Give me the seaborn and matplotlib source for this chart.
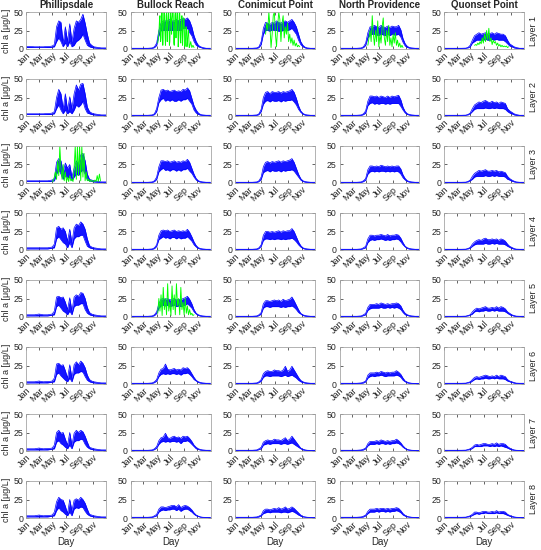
import numpy as np
import seaborn as sns
import matplotlib
matplotlib.use("Agg")
import matplotlib.pyplot as plt

sites = ["Phillipsdale", "Bullock Reach", "Conimicut Point", "North Providence", "Quonset Point"]
layers = ["Layer 1", "Layer 2", "Layer 3", "Layer 4", "Layer 5", "Layer 6", "Layer 7", "Layer 8"]
month_days = [1, 60, 121, 182, 244, 305]
month_labels = ["Jan", "Mar", "May", "Jul", "Sep", "Nov"]

# day of year for the model band (upper / lower envelope of chl a)
days = [1, 20, 40, 60, 80, 100, 110, 120, 130, 140, 150, 160, 170, 180, 190, 200,
        210, 220, 230, 240, 250, 260, 270, 280, 290, 300, 310, 320, 330, 345, 365]

phil_hi = [
    [3.5, 3.5, 3, 3, 3, 3.5, 3.5, 4, 6, 30, 38, 36, 8, 30, 10, 34, 10, 28, 38, 36, 40, 47, 35, 20, 8, 5, 3, 2.5, 2, 1.5, 1.5],
    [3, 3, 3, 3, 3, 3.5, 3.5, 4, 6, 25, 36, 30, 10, 30, 8, 26, 10, 30, 42, 35, 43, 44, 30, 12, 6, 4, 3, 2.5, 2, 1.5, 1.5],
    [3, 3, 3, 3, 3, 3, 3.5, 4, 6, 28, 33, 30, 15, 27, 20, 25, 8, 20, 30, 25, 38, 40, 30, 12, 5, 4, 3, 2.5, 2, 1.5, 1.5],
    [3, 3, 3, 3, 3, 3, 3.5, 4, 8, 30, 32, 28, 30, 25, 12, 28, 10, 30, 35, 33, 38, 35, 28, 15, 6, 4, 3, 2.5, 2, 1.5, 1.5],
    [3, 3, 3, 4, 3, 3, 3.5, 4, 8, 27, 28, 26, 27, 20, 10, 26, 8, 27, 30, 28, 33, 32, 25, 13, 6, 4, 3, 2.5, 2, 1.5, 1.5],
    [3, 3, 3, 4, 3, 3.5, 3.5, 4, 8, 27, 28, 25, 26, 18, 8, 26, 8, 26, 30, 26, 31, 28, 22, 12, 6, 4, 3, 2.5, 2, 1.5, 1.5],
    [3, 3, 3, 4, 3, 3.5, 3.5, 4, 8, 25, 28, 24, 25, 16, 8, 25, 8, 24, 28, 25, 28, 26, 20, 12, 5, 4, 3, 2.5, 2, 1.5, 1.5],
    [3, 3, 3, 4, 3, 3.5, 3.5, 4, 8, 22, 28, 25, 24, 16, 6, 25, 10, 24, 26, 24, 28, 25, 20, 12, 5, 4, 3, 2.5, 2, 1.5, 1.5],
]
phil_lo = [
    [2, 2, 2, 2, 2, 2, 2, 2.5, 3, 10, 15, 10, 3, 8, 3, 10, 3, 5, 10, 12, 15, 20, 12, 5, 3, 2, 1.5, 1.2, 1, 0.8, 0.8],
    [2, 2, 2, 2, 2, 2, 2, 2.5, 3, 10, 15, 8, 3, 8, 3, 6, 3, 8, 15, 12, 15, 20, 10, 4, 3, 2, 1.5, 1.2, 1, 0.8, 0.8],
    [2, 2, 2, 2, 2, 2, 2, 2.5, 3, 12, 18, 12, 5, 10, 6, 10, 3, 8, 12, 10, 15, 18, 12, 4, 3, 2, 1.5, 1.2, 1, 0.8, 0.8],
    [1.5, 1.5, 1.5, 1.5, 1.5, 1.5, 2, 2.5, 3, 15, 18, 14, 10, 8, 3, 10, 3, 15, 18, 18, 20, 20, 12, 5, 3, 2, 1.5, 1.2, 1, 0.8, 0.8],
    [1.5, 1.5, 1.5, 1.5, 1.5, 1.5, 2, 2.5, 3, 14, 16, 12, 8, 6, 3, 8, 3, 14, 16, 16, 18, 18, 10, 5, 3, 2, 1.5, 1.2, 1, 0.8, 0.8],
    [1.5, 1.5, 1.5, 1.5, 1.5, 1.5, 2, 2.5, 3, 13, 15, 11, 8, 5, 3, 8, 3, 13, 15, 15, 17, 16, 10, 5, 3, 2, 1.5, 1.2, 1, 0.8, 0.8],
    [1.5, 1.5, 1.5, 1.5, 1.5, 1.5, 2, 2.5, 3, 12, 14, 10, 8, 5, 3, 8, 3, 12, 14, 14, 16, 15, 9, 5, 3, 2, 1.5, 1.2, 1, 0.8, 0.8],
    [1.5, 1.5, 1.5, 1.5, 1.5, 1.5, 2, 2.5, 3, 10, 14, 10, 8, 5, 3, 8, 3, 12, 14, 13, 15, 14, 9, 5, 3, 2, 1.5, 1.2, 1, 0.8, 0.8],
]

bull_hi = [
    [1, 1, 1, 1, 1, 1.5, 3, 8, 25, 35, 38, 38, 38, 40, 38, 38, 40, 38, 40, 42, 40, 42, 38, 30, 18, 10, 5, 3, 2, 1, 1],
    [1, 1, 1, 1, 1, 1.5, 3, 10, 25, 35, 36, 34, 35, 33, 34, 35, 33, 34, 33, 36, 35, 38, 34, 24, 14, 8, 4, 2, 1.5, 1, 1],
    [1, 1, 1, 1, 1, 1.5, 3, 8, 22, 30, 30, 29, 30, 28, 29, 30, 28, 29, 28, 30, 29, 32, 28, 20, 12, 6, 3, 2, 1.5, 1, 1],
    [1, 1, 1, 1, 1, 1.5, 3, 7, 20, 26, 27, 26, 27, 25, 26, 27, 25, 26, 25, 26, 25, 28, 24, 18, 11, 6, 3, 2, 1.5, 1, 1],
    [1, 1, 1, 1, 1, 1.5, 3, 7, 18, 24, 25, 24, 25, 23, 24, 25, 23, 24, 23, 25, 26, 28, 24, 18, 10, 5, 3, 2, 1.5, 1, 1],
    [1, 1, 1, 1, 1, 1.5, 3, 6, 15, 20, 21, 27, 20, 19, 20, 21, 19, 20, 19, 22, 21, 22, 19, 14, 9, 5, 3, 2, 1.5, 1, 1],
    [1, 1, 1, 1, 1, 1.5, 3, 6, 14, 18, 19, 24, 18, 17, 19, 20, 18, 19, 17, 20, 19, 20, 17, 13, 8, 5, 3, 2, 1.5, 1, 1],
    [1, 1, 1, 1, 1, 1.5, 3, 5, 12, 15, 15, 14, 15, 16, 17, 17, 15, 18, 14, 16, 17, 16, 14, 11, 7, 4, 2.5, 1.5, 1, 0.8, 0.8],
]
bull_lo = [
    [0.5, 0.5, 0.5, 0.5, 0.5, 0.8, 2, 5, 18, 25, 25, 25, 25, 25, 25, 25, 25, 25, 25, 28, 28, 28, 22, 18, 10, 5, 3, 2, 1, 0.5, 0.5],
    [0.5, 0.5, 0.5, 0.5, 0.5, 0.8, 2, 6, 18, 22, 24, 20, 22, 20, 22, 20, 20, 22, 20, 22, 22, 24, 20, 16, 8, 4, 2, 1.2, 0.8, 0.5, 0.5],
    [0.5, 0.5, 0.5, 0.5, 0.5, 0.8, 2, 5, 15, 18, 20, 17, 18, 16, 18, 18, 16, 18, 16, 18, 18, 20, 16, 13, 8, 4, 2, 1.2, 0.8, 0.5, 0.5],
    [0.5, 0.5, 0.5, 0.5, 0.5, 0.8, 2, 5, 14, 16, 18, 16, 17, 15, 17, 17, 15, 17, 15, 16, 16, 18, 15, 12, 7, 4, 2, 1.2, 0.8, 0.5, 0.5],
    [0.5, 0.5, 0.5, 0.5, 0.5, 0.8, 2, 5, 12, 15, 16, 15, 16, 14, 15, 16, 14, 15, 14, 15, 16, 18, 15, 12, 7, 4, 2, 1.2, 0.8, 0.5, 0.5],
    [0.5, 0.5, 0.5, 0.5, 0.5, 0.8, 2, 4, 10, 13, 14, 13, 14, 13, 14, 14, 13, 14, 12, 14, 14, 15, 13, 10, 6, 4, 2, 1.2, 0.8, 0.5, 0.5],
    [0.5, 0.5, 0.5, 0.5, 0.5, 0.8, 2, 4, 9, 12, 13, 12, 13, 12, 13, 13, 12, 13, 10, 13, 13, 14, 12, 9, 6, 3, 2, 1.2, 0.8, 0.5, 0.5],
    [0.5, 0.5, 0.5, 0.5, 0.5, 0.8, 2, 3, 8, 10, 11, 10, 11, 11, 12, 12, 10, 12, 9, 11, 12, 12, 10, 8, 5, 3, 2, 1, 0.8, 0.5, 0.5],
]

coni_hi = [
    [1, 1, 1, 1, 1, 1.5, 3, 10, 28, 36, 35, 33, 36, 35, 38, 36, 35, 37, 38, 36, 38, 40, 36, 30, 20, 10, 5, 2.5, 1.5, 1, 1],
    [1, 1, 1, 1, 1, 1.5, 3, 9, 25, 32, 33, 30, 33, 32, 32, 33, 31, 33, 32, 33, 34, 36, 32, 24, 14, 7, 3.5, 2, 1.5, 1, 1],
    [1, 1, 1, 1, 1, 1.5, 3, 8, 22, 28, 29, 27, 29, 28, 29, 30, 28, 30, 29, 30, 31, 33, 28, 20, 12, 6, 3, 2, 1.5, 1, 1],
    [1, 1, 1, 1, 1, 1.5, 3, 7, 20, 25, 25, 24, 25, 24, 25, 26, 24, 26, 25, 26, 26, 29, 25, 18, 11, 6, 3, 2, 1.5, 1, 1],
    [1, 1, 1, 1, 1, 1.5, 3, 6, 18, 22, 22, 21, 22, 23, 22, 23, 21, 24, 22, 23, 24, 27, 22, 16, 10, 5, 3, 2, 1.5, 1, 1],
    [1, 1, 1, 1, 1, 1.5, 3, 6, 14, 17, 18, 17, 17, 19, 18, 18, 17, 19, 24, 17, 19, 24, 19, 14, 9, 5, 3, 2, 1.5, 1, 1],
    [1, 1, 1, 1, 1, 1.5, 3, 5, 12, 14, 15, 14, 14, 16, 15, 15, 14, 16, 18, 14, 16, 20, 16, 12, 8, 4, 2.5, 1.5, 1, 0.8, 0.8],
    [1, 1, 1, 1, 1, 1.5, 2.5, 4, 10, 12, 12, 11, 12, 13, 12, 14, 12, 13, 15, 12, 13, 15, 13, 10, 7, 4, 2, 1.5, 1, 0.8, 0.8],
]
coni_lo = [
    [0.5, 0.5, 0.5, 0.5, 0.5, 0.8, 2, 6, 20, 25, 25, 24, 26, 25, 25, 24, 24, 25, 26, 25, 26, 28, 24, 20, 12, 6, 3, 1.5, 0.8, 0.5, 0.5],
    [0.5, 0.5, 0.5, 0.5, 0.5, 0.8, 2, 6, 16, 20, 21, 19, 21, 20, 20, 21, 19, 21, 20, 21, 21, 22, 19, 15, 9, 5, 2.5, 1.2, 0.8, 0.5, 0.5],
    [0.5, 0.5, 0.5, 0.5, 0.5, 0.8, 2, 5, 14, 16, 17, 15, 17, 16, 16, 17, 15, 17, 16, 17, 17, 18, 16, 12, 8, 4, 2, 1.2, 0.8, 0.5, 0.5],
    [0.5, 0.5, 0.5, 0.5, 0.5, 0.8, 2, 5, 13, 15, 15, 14, 15, 14, 15, 15, 14, 15, 14, 15, 15, 16, 14, 11, 7, 4, 2, 1.2, 0.8, 0.5, 0.5],
    [0.5, 0.5, 0.5, 0.5, 0.5, 0.8, 2, 4, 12, 14, 14, 13, 14, 14, 14, 14, 13, 14, 13, 14, 14, 15, 13, 10, 6, 4, 2, 1.2, 0.8, 0.5, 0.5],
    [0.5, 0.5, 0.5, 0.5, 0.5, 0.8, 2, 4, 9, 11, 11, 10, 11, 11, 11, 11, 10, 11, 12, 10, 11, 12, 10, 8, 5, 3, 2, 1.2, 0.8, 0.5, 0.5],
    [0.5, 0.5, 0.5, 0.5, 0.5, 0.8, 2, 3, 8, 9, 10, 9, 10, 10, 10, 10, 9, 10, 10, 9, 10, 11, 9, 7, 5, 3, 1.5, 1, 0.8, 0.5, 0.5],
    [0.5, 0.5, 0.5, 0.5, 0.5, 0.8, 1.5, 3, 6, 7, 8, 7, 8, 8, 8, 8, 7, 8, 8, 7, 8, 9, 8, 6, 4, 2.5, 1.5, 1, 0.8, 0.5, 0.5],
]

nprov_hi = [
    [1, 1, 1, 1, 1, 1.5, 3, 8, 22, 30, 30, 32, 30, 29, 32, 30, 29, 31, 29, 31, 30, 30, 32, 26, 14, 7, 3.5, 2, 1.5, 1, 1],
    [1, 1, 1, 1, 1, 1.5, 3, 7, 20, 27, 27, 26, 27, 25, 27, 26, 25, 27, 25, 27, 26, 27, 28, 22, 12, 6, 3, 2, 1.5, 1, 1],
    [1, 1, 1, 1, 1, 1.5, 3, 6, 18, 23, 23, 22, 23, 22, 24, 23, 22, 23, 22, 23, 22, 23, 23, 19, 11, 6, 3, 2, 1.5, 1, 1],
    [1, 1, 1, 1, 1, 1.5, 3, 5, 15, 20, 20, 19, 20, 20, 21, 20, 19, 21, 19, 20, 20, 21, 20, 16, 10, 5, 3, 2, 1.5, 1, 1],
    [1, 1, 1, 1, 1, 1.5, 3, 5, 13, 17, 17, 17, 18, 17, 19, 18, 17, 18, 17, 18, 18, 19, 18, 15, 9, 5, 3, 2, 1.5, 1, 1],
    [1, 1, 1, 1, 1, 1.5, 2.5, 4, 12, 15, 15, 15, 16, 15, 17, 16, 15, 16, 15, 16, 16, 18, 16, 13, 8, 4, 2.5, 1.5, 1, 0.8, 0.8],
    [1, 1, 1, 1, 1, 1.5, 2.5, 4, 10, 13, 13, 13, 14, 13, 15, 14, 13, 14, 13, 14, 14, 16, 14, 11, 7, 4, 2, 1.5, 1, 0.8, 0.8],
    [1, 1, 1, 1, 1, 1.5, 2.5, 4, 9, 12, 12, 12, 13, 12, 13, 13, 12, 13, 12, 13, 13, 14, 13, 10, 6, 3.5, 2, 1.5, 1, 0.8, 0.8],
]
nprov_lo = [
    [0.5, 0.5, 0.5, 0.5, 0.5, 0.8, 2, 5, 15, 19, 20, 20, 19, 18, 20, 19, 18, 20, 18, 20, 19, 19, 20, 16, 9, 4, 2, 1.2, 0.8, 0.5, 0.5],
    [0.5, 0.5, 0.5, 0.5, 0.5, 0.8, 2, 4, 14, 17, 18, 16, 17, 16, 17, 17, 16, 17, 16, 17, 17, 17, 17, 13, 8, 4, 2, 1.2, 0.8, 0.5, 0.5],
    [0.5, 0.5, 0.5, 0.5, 0.5, 0.8, 2, 4, 12, 15, 16, 15, 16, 15, 16, 16, 15, 16, 15, 16, 15, 16, 15, 12, 7, 4, 2, 1.2, 0.8, 0.5, 0.5],
    [0.5, 0.5, 0.5, 0.5, 0.5, 0.8, 2, 3, 10, 13, 14, 13, 14, 14, 15, 14, 13, 14, 13, 14, 14, 15, 14, 11, 7, 4, 2, 1.2, 0.8, 0.5, 0.5],
    [0.5, 0.5, 0.5, 0.5, 0.5, 0.8, 2, 3, 9, 11, 12, 12, 12, 12, 13, 12, 12, 13, 12, 13, 12, 13, 12, 10, 6, 3, 2, 1.2, 0.8, 0.5, 0.5],
    [0.5, 0.5, 0.5, 0.5, 0.5, 0.8, 1.5, 3, 8, 10, 11, 10, 11, 11, 12, 11, 10, 11, 11, 11, 11, 12, 11, 9, 5, 3, 1.5, 1, 0.8, 0.5, 0.5],
    [0.5, 0.5, 0.5, 0.5, 0.5, 0.8, 1.5, 3, 7, 9, 9, 9, 10, 9, 10, 10, 9, 10, 9, 10, 10, 11, 10, 8, 5, 3, 1.5, 1, 0.8, 0.5, 0.5],
    [0.5, 0.5, 0.5, 0.5, 0.5, 0.8, 1.5, 3, 6, 8, 8, 8, 9, 8, 9, 9, 8, 9, 8, 9, 9, 10, 9, 7, 4, 2.5, 1.5, 1, 0.8, 0.5, 0.5],
]

quon_hi = [
    [1, 1, 1, 1, 1, 1.2, 2, 5, 12, 18, 20, 22, 20, 21, 22, 20, 21, 22, 20, 22, 21, 20, 20, 18, 12, 7, 5, 3, 2, 1, 1],
    [1, 1, 1, 1, 1, 1.2, 2, 4, 10, 15, 17, 19, 18, 20, 21, 19, 18, 20, 18, 19, 17, 19, 18, 17, 10, 7, 5, 3, 2, 1, 1],
    [1, 1, 1, 1, 1, 1.2, 2, 4, 9, 13, 15, 17, 16, 17, 18, 16, 16, 17, 16, 17, 15, 16, 15, 14, 9, 6, 4, 2.5, 1.5, 1, 1],
    [1, 1, 1, 1, 1, 1.2, 2, 3.5, 8, 11, 13, 14, 13, 15, 16, 14, 14, 15, 14, 15, 13, 15, 14, 12, 8, 5, 3.5, 2, 1.2, 1, 1],
    [1, 1, 1, 1, 1, 1.2, 2, 3, 7, 10, 12, 11, 12, 13, 14, 12, 12, 13, 12, 14, 12, 14, 13, 11, 7, 5, 3, 2, 1.2, 1, 1],
    [1, 1, 1, 1, 1, 1.2, 2, 3, 6, 9, 10, 9, 10, 11, 12, 11, 10, 11, 10, 12, 10, 12, 11, 10, 6, 4, 3, 2, 1.2, 1, 1],
    [1, 1, 1, 1, 1, 1.2, 2, 3, 5, 8, 9, 8, 9, 10, 10, 9, 9, 10, 9, 11, 9, 10, 10, 9, 6, 4, 2.5, 1.5, 1, 0.8, 0.8],
    [1, 1, 1, 1, 1, 1.2, 2, 3, 5, 8, 8, 7, 8, 9, 9, 8, 8, 9, 8, 10, 8, 9, 9, 8, 5, 3.5, 2.5, 1.5, 1, 0.8, 0.8],
]
quon_lo = [
    [0.5, 0.5, 0.5, 0.5, 0.5, 0.8, 1.5, 3, 8, 10, 12, 12, 12, 12, 13, 12, 12, 13, 12, 13, 12, 12, 12, 10, 7, 4, 3, 1.5, 1, 0.5, 0.5],
    [0.5, 0.5, 0.5, 0.5, 0.5, 0.8, 1.5, 3, 6, 9, 10, 10, 10, 10, 11, 10, 10, 11, 10, 11, 10, 10, 10, 9, 6, 4, 3, 1.5, 1, 0.5, 0.5],
    [0.5, 0.5, 0.5, 0.5, 0.5, 0.8, 1.5, 3, 5, 8, 9, 9, 9, 9, 10, 9, 9, 10, 9, 10, 9, 9, 9, 8, 5, 4, 2.5, 1.5, 1, 0.5, 0.5],
    [0.5, 0.5, 0.5, 0.5, 0.5, 0.8, 1.5, 2.5, 5, 7, 8, 8, 8, 8, 9, 8, 8, 9, 8, 9, 8, 8, 8, 7, 5, 3.5, 2, 1.2, 0.8, 0.5, 0.5],
    [0.5, 0.5, 0.5, 0.5, 0.5, 0.8, 1.5, 2.5, 4, 7, 8, 7, 8, 8, 9, 8, 8, 9, 8, 9, 8, 8, 8, 7, 5, 3, 2, 1.2, 0.8, 0.5, 0.5],
    [0.5, 0.5, 0.5, 0.5, 0.5, 0.8, 1.5, 2, 4, 6, 7, 6, 7, 7, 8, 7, 7, 8, 7, 8, 7, 7, 7, 6, 4, 3, 2, 1.2, 0.8, 0.5, 0.5],
    [0.5, 0.5, 0.5, 0.5, 0.5, 0.8, 1.5, 2, 3.5, 6, 6, 6, 6, 7, 7, 7, 6, 7, 6, 7, 6, 7, 6, 5, 4, 2.5, 1.5, 1, 0.8, 0.5, 0.5],
    [0.5, 0.5, 0.5, 0.5, 0.5, 0.8, 1.5, 2, 3.5, 5, 6, 5, 6, 6, 7, 6, 6, 6, 6, 7, 6, 6, 6, 5, 3.5, 2.5, 1.5, 1, 0.8, 0.5, 0.5],
]

# observations (green), day of year and chl a
phil3_obs_day = [120, 125, 130, 135, 140, 145, 150, 155, 160, 165, 170, 175, 180, 185, 190, 195, 200, 205, 210, 215, 220, 225,
                 230, 235, 240, 245, 250, 255, 260, 265, 270, 275, 280, 285, 290, 295, 300, 305, 310, 315, 320, 325, 330, 335, 340]
phil3_obs = [2, 3, 8, 15, 5, 30, 10, 50, 20, 5, 25, 3, 15, 2, 8, 2, 10, 3, 5, 2, 20, 50,
             5, 50, 10, 50, 3, 50, 8, 40, 3, 15, 3, 5, 2, 4, 2, 3, 2, 4, 2, 10, 2, 12, 3]

bull1_obs_day = [125, 128, 130, 133, 135, 138, 140, 143, 145, 148, 150, 153, 155, 158, 160, 163, 165, 168, 170, 173,
                 175, 178, 180, 183, 185, 188, 190, 193, 195, 198, 200, 203, 205, 208, 210, 213, 215, 218, 220, 223,
                 225, 228, 230, 233, 235, 238, 240, 243, 245, 248, 250, 253, 255, 258, 260, 263, 265, 268, 270, 275,
                 280, 285, 290]
bull1_obs = [8, 15, 20, 40, 45, 10, 15, 50, 50, 5, 25, 50, 50, 20, 5, 45, 50, 10, 30, 50,
             50, 5, 10, 48, 50, 20, 40, 50, 50, 8, 5, 45, 50, 15, 35, 50, 50, 3, 15, 50,
             50, 10, 8, 40, 45, 5, 20, 42, 40, 3, 5, 30, 30, 3, 10, 25, 25, 2, 3, 10,
             2, 5, 2]

bull5_obs_day = [125, 130, 135, 140, 145, 150, 155, 160, 165, 170, 175, 180, 185, 190, 195, 200, 205, 210, 215,
                 220, 225, 230, 235, 240, 245, 250, 255, 260, 265, 270, 275, 280, 285, 290]
bull5_obs = [5, 25, 8, 30, 2, 40, 10, 25, 3, 45, 8, 20, 2, 42, 10, 30, 3, 45, 15,
             25, 3, 40, 10, 20, 3, 25, 5, 15, 3, 10, 3, 5, 2, 3]

coni1_obs_day = [140, 145, 150, 155, 160, 165, 170, 175, 180, 185, 190, 195, 200, 205, 210, 215, 220, 225, 230,
                 235, 240, 245, 250, 255, 260, 265, 270, 275, 280, 285, 290, 295]
coni1_obs = [20, 35, 25, 50, 30, 2, 20, 45, 50, 20, 3, 30, 50, 40, 10, 35, 45, 15, 30,
             20, 35, 10, 20, 8, 15, 5, 12, 4, 8, 3, 5, 3]

nprov1_obs_day = [130, 135, 140, 145, 150, 155, 160, 165, 170, 175, 180, 185, 190, 195, 200, 205, 210, 215, 220,
                  225, 230, 235, 240, 245, 250, 255, 260, 265, 270, 275, 280, 285, 290]
nprov1_obs = [5, 15, 25, 10, 45, 20, 5, 25, 10, 38, 3, 20, 8, 30, 42, 15, 5, 25, 10,
              32, 5, 15, 3, 20, 8, 22, 5, 12, 3, 8, 2, 5, 2]

quon1_obs_day = [140, 145, 150, 155, 160, 165, 170, 175, 180, 185, 190, 195, 200, 205, 210, 215, 220, 225, 230,
                 235, 240, 245, 250, 255, 260, 265, 270, 275, 280, 285, 290, 295]
quon1_obs = [5, 6, 5, 8, 6, 10, 7, 15, 8, 20, 10, 25, 12, 28, 10, 15, 6, 12, 8,
             10, 5, 8, 4, 6, 3, 5, 3, 4, 3, 4, 2, 3]

bands = [(phil_hi, phil_lo), (bull_hi, bull_lo), (coni_hi, coni_lo), (nprov_hi, nprov_lo), (quon_hi, quon_lo)]
obs = {(2, 0): (phil3_obs_day, phil3_obs), (0, 1): (bull1_obs_day, bull1_obs), (4, 1): (bull5_obs_day, bull5_obs),
       (0, 2): (coni1_obs_day, coni1_obs), (0, 3): (nprov1_obs_day, nprov1_obs), (0, 4): (quon1_obs_day, quon1_obs)}

sns.set_theme(style="white")
plt.rcParams['font.family'] = ['Liberation Sans', 'DejaVu Sans']
plt.rcParams['xtick.direction'] = 'in'
plt.rcParams['ytick.direction'] = 'in'

W, H = 541, 550
fig = plt.figure(figsize=(W / 100, H / 100), dpi=100)

for c in range(5):
    hi_all, lo_all = bands[c]
    for r in range(8):
        left = (26 + c * 104.5) / W
        top = (12 + r * 67) / H
        ax = fig.add_axes([left, 1 - top - 37 / H, 80 / W, 37 / H])
        hi = hi_all[r]
        lo = lo_all[r]
        ax.fill_between(days, lo, hi, color="#0000ff", lw=0, alpha=0.92)
        sns.lineplot(x=days, y=hi, ax=ax, color="#0000ff", lw=0.5)
        sns.lineplot(x=days, y=lo, ax=ax, color="#0000ff", lw=0.5)
        if (r, c) in obs:
            od, ov = obs[(r, c)]
            sns.lineplot(x=od, y=ov, ax=ax, color="#00ff00", lw=0.65)
        ax.set_xlim(1, 365)
        ax.set_ylim(0, 50)
        ax.set_yticks([0, 25, 50])
        ax.set_xticks(month_days)
        ax.set_xticklabels(month_labels, rotation=45, ha="right", va="top", rotation_mode="anchor")
        ax.tick_params(labelsize=6.3, length=2, width=0.5, pad=2, colors="#262626",
                       top=True, right=True, left=True, bottom=True)
        ax.tick_params(axis="x", labelsize=6.5, pad=1.5)
        for sp in ax.spines.values():
            sp.set_color("#a6a6a6")
            sp.set_linewidth(0.6)
        ax.set_xlabel("")
        ax.set_ylabel("")
        if r == 0:
            ax.set_title(sites[c], fontsize=7, fontweight="bold", pad=3)
        if c == 0:
            ax.set_ylabel("chl a [\u03bcg/L]", fontsize=6.5, labelpad=2)
        if r == 7:
            ax.set_xlabel("Day", fontsize=7)
            ax.xaxis.set_label_coords(0.5, -0.52)
        if c == 4:
            ax.text(1.12, 0.5, layers[r], transform=ax.transAxes, rotation=90,
                    ha="center", va="center", fontsize=6.5, color="#262626")

fig.savefig("out.png", dpi=100)
